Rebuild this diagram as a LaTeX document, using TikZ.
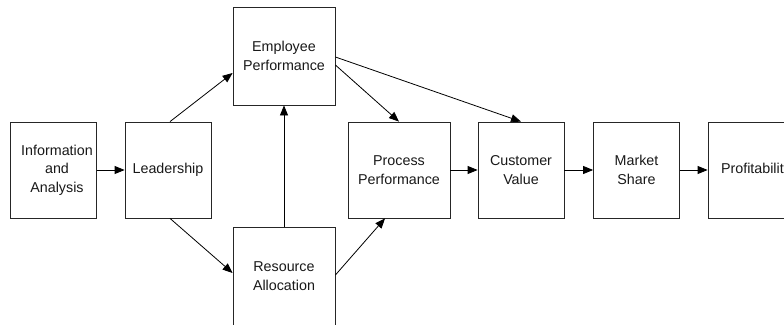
\documentclass[tikz,border=0pt]{standalone}
\usepackage{fontspec}
\setmainfont{Liberation Sans}
\usetikzlibrary{arrows.meta,calc}
\begin{document}
\begin{tikzpicture}[x=1pt,y=-1pt,
  box/.style={draw=black!85,line width=0.8pt,minimum width=86pt,minimum height=96pt,inner sep=0pt,align=center,font=\fontsize{14.3}{18.5}\selectfont,text=black!90},
  conn/.style={draw=black,line width=0.8pt,-{Triangle[length=10pt,width=8pt]}}]
\useasboundingbox (0,0) rectangle (784,324);
\clip (0,0) rectangle (784,324);
\fill[white] (0,0) rectangle (784,324);
\node[box] (info) at (53.5,170) {\hspace*{7pt}Information\\\hspace*{7pt}and\\\hspace*{7pt}Analysis};
\node[box] (lead) at (168,170) {Leadership};
\node[box,minimum width=102pt,minimum height=98pt] (emp) at (284,56) {Employee\\Performance};
\node[box,minimum width=102pt,minimum height=98pt] (res) at (284,276) {Resource\\Allocation};
\node[box,minimum width=102pt] (proc) at (399,170) {Process\\Performance};
\node[box] (cust) at (521,170) {Customer\\Value};
\node[box] (mkt) at (636.5,170) {Market\\Share};
\node[box,minimum width=96pt] (prof) at (756,170) {Profitability};
\draw[conn] (info) -- (lead);
\draw[conn] ($(lead.north)+(2,0)$) -- ($(emp.west)+(0,17)$);
\draw[conn] ($(lead.south)+(2,0)$) -- ($(res.west)+(0,-3)$);
\draw[conn] (res.north) -- (emp.south);
\draw[conn] ($(res.east)+(0,-1)$) -- ($(proc.south)+(-14,0)$);
\draw[conn] ($(emp.east)+(0,9)$) -- (proc.north);
\draw[conn] ($(emp.east)+(0,1)$) -- (cust.north);
\draw[conn] (proc) -- (cust);
\draw[conn] (cust) -- (mkt);
\draw[conn] (mkt) -- (prof);
\end{tikzpicture}
\end{document}
